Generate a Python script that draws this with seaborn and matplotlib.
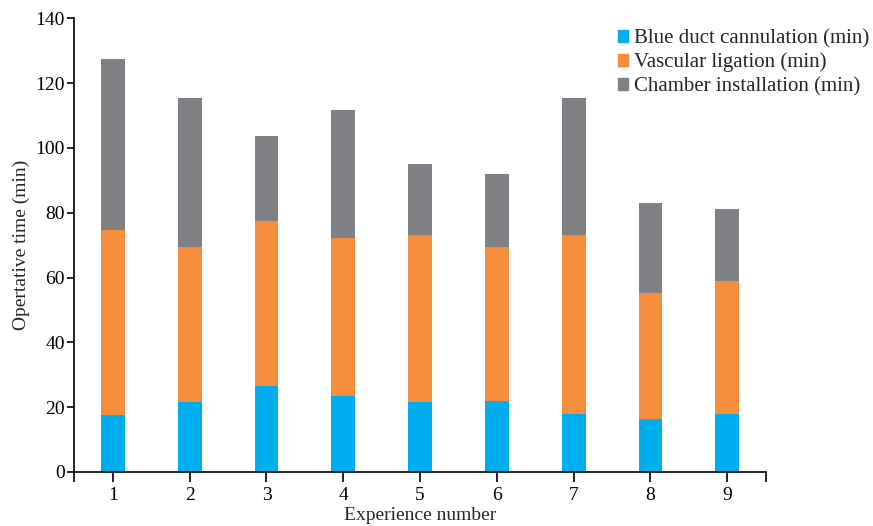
import numpy as np
import pandas as pd
import matplotlib.pyplot as plt
import matplotlib.patches as mpatches
import seaborn as sns

sns.set_style("white")
plt.rcParams['font.family'] = ['Liberation Serif', 'DejaVu Serif']
plt.rcParams['font.size'] = 14

# data
experiments = ['1', '2', '3', '4', '5', '6', '7', '8', '9']
blue_duct = [17.6, 21.6, 26.6, 23.6, 21.6, 21.8, 18.0, 16.4, 18.0]
vascular = [57.1, 47.8, 50.8, 48.6, 51.4, 47.6, 55.1, 38.8, 40.8]
chamber = [52.7, 46.0, 26.3, 39.5, 22.0, 22.6, 42.3, 27.8, 22.3]
series = ['Blue duct cannulation (min)', 'Vascular ligation (min)',
          'Chamber installation (min)']
colors = ['#00aeef', '#f68d3d', '#808184']

df = pd.DataFrame({'exp': experiments, 'blue': blue_duct,
                   'vasc': vascular, 'cham': chamber})
df['lvl1'] = df['blue']
df['lvl2'] = df['blue'] + df['vasc']
df['lvl3'] = df['lvl2'] + df['cham']

fig = plt.figure(figsize=(8.73, 5.26), dpi=100)
ax = fig.add_axes([0.0853, 0.1027, 0.7917, 0.8625])

# stacked look: draw the cumulative totals from tallest to shortest
for col, c in zip(['lvl3', 'lvl2', 'lvl1'], colors[::-1]):
    sns.barplot(data=df, x='exp', y=col, color=c, width=0.31,
                saturation=1, linewidth=0, ax=ax)

ax.set_xlim(-0.5, 8.5)
ax.set_ylim(0, 140)
ax.set_yticks(np.arange(0, 141, 20))
ax.set_xticks([-0.5] + list(range(9)) + [8.5])
ax.set_xticklabels([''] + experiments + [''])
ax.tick_params(axis='x', direction='out', length=7, width=1.2, colors='black',
               labelsize=14, pad=4, bottom=True)
ax.tick_params(axis='y', direction='out', length=5, width=1.2, colors='black',
               labelsize=14, pad=2, left=True)
for s in ['top', 'right']:
    ax.spines[s].set_visible(False)
for s in ['left', 'bottom']:
    ax.spines[s].set_color('black')
    ax.spines[s].set_linewidth(1.2)

ax.set_xlabel('Experience number', fontsize=14, labelpad=2)
ax.set_ylabel('Opertative time (min)', fontsize=14, labelpad=4)

handles = [mpatches.Patch(color=c, label=l) for c, l in zip(colors, series)]
fig.legend(handles=handles, loc='upper left', bbox_to_anchor=(0.698, 0.961),
           frameon=False, fontsize=15, handlelength=0.5, handleheight=0.5,
           handletextpad=0.3, labelspacing=0.22, borderaxespad=0)

fig.savefig('out.png', dpi=100)
